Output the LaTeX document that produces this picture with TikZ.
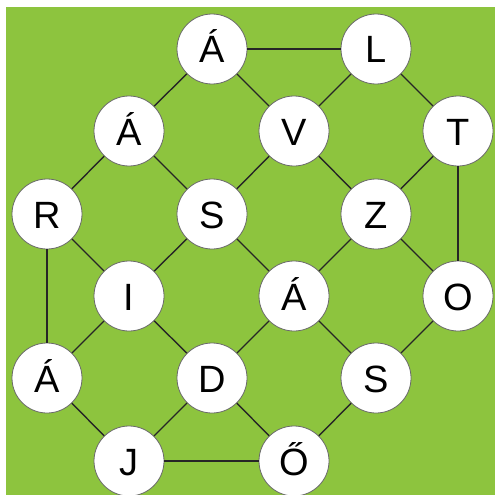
\documentclass[tikz,border=0pt]{standalone}
\usepackage{fontspec}
\setmainfont{Liberation Sans}
\definecolor{bggreen}{RGB}{141,196,62}
\definecolor{ringgray}{RGB}{105,105,105}
\begin{document}
\begin{tikzpicture}[x=1pt,y=-1pt,
  letter/.style={circle,draw=ringgray,line width=0.8pt,fill=white,minimum size=70pt,inner sep=0pt,
    font=\fontsize{38}{38}\selectfont,text height=28pt,text depth=0pt},
  link/.style={line width=1.4pt,black!85}]
\useasboundingbox (0,0) rectangle (495,495);
\fill[bggreen] (6,7) rectangle (495,495);
% nodes
\node[letter] (a1) at (212,49) {Á};
\node[letter] (l)  at (376,49) {L};
\node[letter] (a2) at (129,131) {Á};
\node[letter] (v)  at (294,131) {V};
\node[letter] (t)  at (458,131) {T};
\node[letter] (r)  at (47,214) {R};
\node[letter] (s1) at (212,214) {S};
\node[letter] (z)  at (376,214) {Z};
\node[letter] (i)  at (129,296) {I};
\node[letter] (a3) at (294,296) {Á};
\node[letter] (o)  at (458,296) {O};
\node[letter] (a4) at (47,378) {Á};
\node[letter] (d)  at (212,378) {D};
\node[letter] (s2) at (376,378) {S};
\node[letter] (j)  at (129,461) {J};
\node[letter] (oo) at (294,461) {Ő};
% connectors
\draw[link] (a1) -- (l);
\draw[link] (a1) -- (a2);
\draw[link] (a1) -- (v);
\draw[link] (l) -- (v);
\draw[link] (l) -- (t);
\draw[link] (a2) -- (r);
\draw[link] (a2) -- (s1);
\draw[link] (v) -- (s1);
\draw[link] (v) -- (z);
\draw[link] (t) -- (z);
\draw[link] (t) -- (o);
\draw[link] (r) -- (i);
\draw[link] (r) -- (a4);
\draw[link] (s1) -- (i);
\draw[link] (s1) -- (a3);
\draw[link] (z) -- (a3);
\draw[link] (z) -- (o);
\draw[link] (i) -- (a4);
\draw[link] (i) -- (d);
\draw[link] (a3) -- (d);
\draw[link] (a3) -- (s2);
\draw[link] (o) -- (s2);
\draw[link] (a4) -- (j);
\draw[link] (d) -- (j);
\draw[link] (d) -- (oo);
\draw[link] (s2) -- (oo);
\draw[link] (j) -- (oo);
\end{tikzpicture}
\end{document}
